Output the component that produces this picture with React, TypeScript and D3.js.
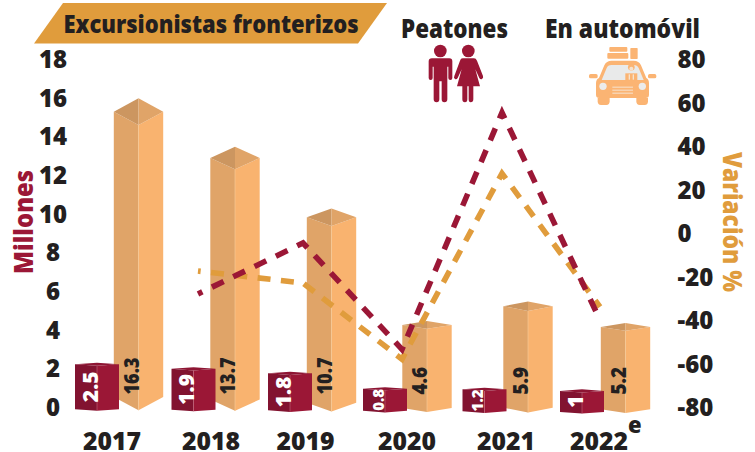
import React from "react";
import * as d3 from "d3";

const years = [2017, 2018, 2019, 2020, 2021, 2022];
const autoLabels = ["16.3", "13.7", "10.7", "4.6", "5.9", "5.2"];
const peatonLabels = ["2.5", "1.9", "1.8", "0.8", "1.2", "1"];
// drawn heights of the prisms (millions, on the prism scale)
const autoDrawn = [16.3, 13.8, 10.6, 4.75, 5.8, 4.7];
const peatonDrawn = [2.57, 2.34, 2.11, 1.26, 1.26, 1.2];
const lineYears = [2018, 2019, 2020, 2021, 2022];
const peatonVar = [-28, -4.6, -53.5, 55.4, -40];
const autoVar = [-17.5, -23, -58, 27.4, -34];
const leftTicks = [0, 2, 4, 6, 8, 10, 12, 14, 16, 18];
const rightTicks = [-80, -60, -40, -20, 0, 20, 40, 60, 80];

const C = {
  ink: "#231F20",
  gold: "#E09C3C",
  maroon: "#9B1736",
  maroonDark: "#821330",
  autoFront: "#F9B36F",
  autoSide: "#E0A468",
  autoTopL: "#CC9660",
  car: "#FBB473",
};
const FF = "'Open Sans', sans-serif";
const W = 800;

const yLeft = d3.scaleLinear().domain([0, 18]).range([407, 59]);
const yRight = d3.scaleLinear().domain([-80, 80]).range([407, 59]);
const xAuto = d3.scaleLinear().domain(years).range([138.5, 235, 331.5, 427, 528, 625.5]);
const xPeaton = d3.scaleLinear().domain(years).range([97, 193.5, 290, 385, 484.5, 582]);
const xYear = d3.scaleLinear().domain(years).range([112, 211, 305.5, 407, 506, 599]);
const xLine = d3.scaleLinear().domain(lineYears).range([198, 303, 402, 502, 600]);
const prismH = d3.scaleLinear().domain([0, 1]).range([0, 17.5]);
const baseY = d3.scaleLinear().domain([2017, 2022]).range([410.3, 413]);

const DASH = 13;

// The dash period is fitted so a dash sits on the vertices from index `from` to the 2021 peak.
function seriesPath(vals: number[], color: string, from: number, periods: number) {
  const pts: [number, number][] = vals.map((v, i) => [xLine(lineYears[i]), yRight(v)]);
  const dist = (a: number, b: number) => {
    let s = 0;
    for (let i = a + 1; i <= b; i++) s += Math.hypot(pts[i][0] - pts[i - 1][0], pts[i][1] - pts[i - 1][1]);
    return s;
  };
  const period = dist(from, 3) / periods;
  const L = dist(0, 3);
  const line = d3.line();
  return (
    <path
      d={line(pts) as string}
      fill="none"
      stroke={color}
      strokeWidth={5.6}
      strokeLinejoin="miter"
      strokeMiterlimit={10}
      strokeDasharray={`${DASH} ${period - DASH}`}
      strokeDashoffset={DASH / 2 - L}
    />
  );
}

function AutoBar({ i }: { i: number }) {
  const yr = years[i];
  const c = xAuto(yr);
  const hw = 24.7;
  const h = prismH(autoDrawn[i]);
  const b = baseY(yr);
  const t = b - h;
  const d = h * 0.047;
  return (
    <g>
      <polygon points={`${c - hw},${t - d} ${c},${t} ${c},${b} ${c - hw},${b - d}`} fill={C.autoSide} />
      <polygon points={`${c},${t} ${c + hw},${t - d} ${c + hw},${b - d} ${c},${b}`} fill={C.autoFront} />
      <line x1={c} x2={c} y1={t} y2={b} stroke="#F5C896" strokeWidth={0.7} />
      <polygon points={`${c - hw},${t - d} ${c},${t - 2 * d} ${c},${t}`} fill={C.autoTopL} />
      <polygon points={`${c},${t - 2 * d} ${c + hw},${t - d} ${c},${t}`} fill={C.autoSide} />
      <text
        transform={`translate(${c - 7.3},394.5) rotate(-90)`}
        dy="0.36em"
        fontFamily={FF}
        fontWeight={W}
        fontSize={21.5}
        fill={C.ink}
        textLength={autoLabels[i].length === 4 ? 37 : 27.5}
        lengthAdjust="spacingAndGlyphs"
      >
        {autoLabels[i]}
      </text>
    </g>
  );
}

function PeatonBar({ i }: { i: number }) {
  const yr = years[i];
  const c = xPeaton(yr);
  const hw = 22;
  const h = prismH(peatonDrawn[i]);
  const b = baseY(yr) + 0.5;
  const t = b - h;
  const d = 1.6;
  const small = peatonLabels[i] === "0.8" || peatonLabels[i] === "1.2";
  const fs = small ? 15 : 21;
  return (
    <g>
      <polygon points={`${c - hw},${t - d} ${c},${t} ${c},${b} ${c - hw},${b - d}`} fill={C.maroonDark} />
      <polygon points={`${c},${t} ${c + hw},${t - d} ${c + hw},${b - d} ${c},${b}`} fill={C.maroon} />
      <polygon points={`${c - hw},${t - d} ${c},${t - 2 * d} ${c + hw},${t - d} ${c},${t}`} fill="#8E1533" />
      <line x1={c} x2={c} y1={t} y2={b} stroke="#C4667C" strokeWidth={0.6} />
      <text
        transform={`translate(${c - 6.7},${(t + b) / 2 - 1.5}) rotate(-90)`}
        dy="0.36em"
        textAnchor="middle"
        fontFamily={FF}
        fontWeight={W}
        fontSize={fs}
        fill="#fff"
      >
        {peatonLabels[i]}
      </text>
    </g>
  );
}

function People() {
  return (
    <g transform="translate(420,40) scale(0.3333)" fill={C.maroon}>
      <circle cx={61} cy={33} r={19} />
      <path d="M36,55 H88 Q97,55 97,64 V114 Q97,120 91,120 Q85,120 85,114 V80 H82 V178 Q82,187 73,187 Q65,187 65,178 V124 H58 V178 Q58,187 50,187 Q41,187 41,178 V80 H38 V114 Q38,120 32,120 Q26,120 26,114 V64 Q26,55 36,55 Z" />
      <circle cx={145} cy={33} r={19} />
      <path d="M128,55 H162 Q168,55 171,62 L189,108 Q191,114 186,117 Q181,119 178,114 L166,88 L180,139 H160 V178 Q160,187 152,187 Q146,187 146,178 V139 H142 V178 Q142,187 135,187 Q127,187 127,178 V139 H111 L125,88 L113,114 Q110,119 105,117 Q100,114 103,108 L120,62 Q122,55 128,55 Z" />
    </g>
  );
}

function Car() {
  return (
    <g transform="translate(585,42) scale(0.3333)">
      <g fill={C.car}>
        <rect x={73} y={15} width={54} height={14} rx={3} />
        <rect x={67} y={33} width={63} height={17} rx={3} />
        <rect x={136} y={18} width={22} height={33} rx={2} />
        <rect x={12} y={96} width={26} height={13} rx={5} />
        <rect x={189} y={96} width={25} height={13} rx={5} />
        <path d="M38,168 H74 V178 Q74,189 64,189 H48 Q38,189 38,178 Z" />
        <path d="M154,168 H189 V178 Q189,189 179,189 H164 Q154,189 154,178 Z" />
        <path d="M42,108 L58,70 Q64,56 80,56 H146 Q162,56 168,70 L184,108 Q192,112 192,124 V158 Q192,168 182,168 H43 Q33,168 33,158 V124 Q33,112 42,108 Z" />
      </g>
      <path d="M50,114 L65,78 Q68,69 80,69 H146 Q157,69 161,78 L176,114 Z" fill="#E9EAEA" />
      <circle cx={54} cy={133} r={11} fill="#ECECEC" />
      <circle cx={172} cy={133} r={11} fill="#ECECEC" />
      <g fill="#F6E3CF">
        <rect x={82} y={134} width={62} height={3} />
        <rect x={82} y={143} width={62} height={3} />
        <rect x={82} y={152} width={62} height={3} />
      </g>
      <g fill={C.car}>
        <circle cx={139} cy={76} r={10} />
        <rect x={121} y={94} width={36} height={22} />
      </g>
      <circle cx={139} cy={80} r={6} fill="#F6E3CF" />
      <rect x={131} y={97} width={4} height={16} fill="#F6E3CF" />
      <rect x={143} y={97} width={4} height={16} fill="#F6E3CF" />
    </g>
  );
}

export default function App() {
  return (
    <svg
      width={755}
      height={452}
      viewBox="0 0 755 452"
      style={{ position: "absolute", left: 0, top: 0, background: "#fff" }}
    >
      <polygon points="63,3 387,3 358,43.5 34,43.5" fill={C.gold} />
      <text x={63.5} y={33} fontFamily={FF} fontWeight={W} fontSize={25.5} fill={C.ink} textLength={295} lengthAdjust="spacingAndGlyphs">
        Excursionistas fronterizos
      </text>
      <text x={401} y={38} fontFamily={FF} fontWeight={W} fontSize={26} fill={C.ink} textLength={107} lengthAdjust="spacingAndGlyphs">
        Peatones
      </text>
      <text x={545} y={38} fontFamily={FF} fontWeight={W} fontSize={26} fill={C.ink} textLength={155} lengthAdjust="spacingAndGlyphs">
        En automóvil
      </text>
      <People />
      <Car />

      {leftTicks.map((t) => (
        <text key={t} x={53} y={yLeft(t)} dy="0.38em" textAnchor="middle" fontFamily={FF} fontWeight={W} fontSize={24} fill={C.ink}>
          {t}
        </text>
      ))}
      {rightTicks.map((t) => (
        <text key={t} x={677.5} y={yRight(t)} dy="0.38em" fontFamily={FF} fontWeight={W} fontSize={24} fill={C.ink}>
          {t}
        </text>
      ))}

      <text
        transform="translate(23.5,222) rotate(-90)"
        dy="0.36em"
        textAnchor="middle"
        fontFamily={FF}
        fontWeight={W}
        fontSize={26}
        fill={C.maroon}
        textLength={104}
        lengthAdjust="spacingAndGlyphs"
      >
        Millones
      </text>
      <text
        transform="translate(732,222) rotate(90)"
        dy="0.36em"
        textAnchor="middle"
        fontFamily={FF}
        fontWeight={W}
        fontSize={26}
        fill={C.gold}
        textLength={140}
        lengthAdjust="spacingAndGlyphs"
      >
        Variación %
      </text>

      {years.map((_, i) => (
        <AutoBar key={i} i={i} />
      ))}
      {years.map((_, i) => (
        <PeatonBar key={i} i={i} />
      ))}

      {seriesPath(autoVar, C.gold, 2, 9)}
      {seriesPath(peatonVar, C.maroon, 1, 17)}

      {years.map((y) => (
        <text key={y} x={xYear(y)} y={450} textAnchor="middle" fontFamily={FF} fontWeight={W} fontSize={25} fill={C.ink} textLength={58} lengthAdjust="spacingAndGlyphs">
          {y}
        </text>
      ))}
      <text x={628} y={433} fontFamily={FF} fontWeight={W} fontSize={22} fill={C.ink}>
        e
      </text>
    </svg>
  );
}
